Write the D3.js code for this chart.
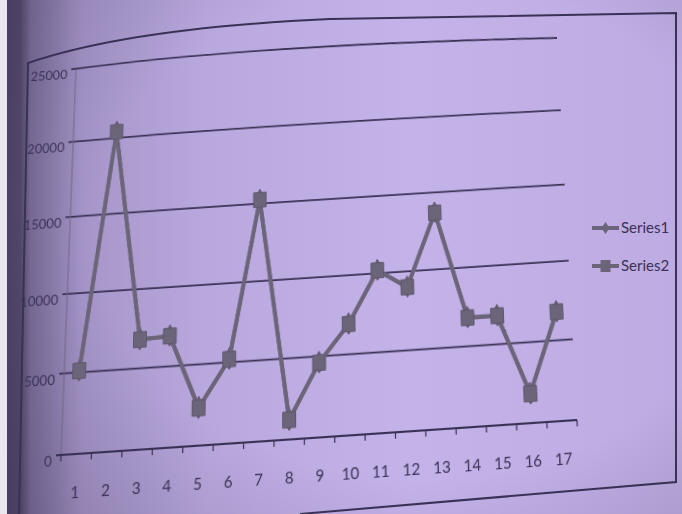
<!DOCTYPE html>
<html>
<head>
<meta charset="utf-8">
<script src="https://cdn.jsdelivr.net/npm/d3@7"></script>
<style>
  html, body { margin: 0; padding: 0; background: #bba9df; }
  #wrap { position: relative; width: 682px; height: 514px; overflow: hidden; }
  #wrap svg { position: absolute; left: 0; top: 0; display: block; }
  #sheet { transform-origin: 0 0; }
</style>
</head>
<body>
<div id="wrap">
  <svg id="page" width="682" height="514"></svg>
  <svg id="sheet" width="682" height="514"></svg>
</div>
<script>
// Data
const categories = ["1","2","3","4","5","6","7","8","9","10","11","12","13","14","15","16","17"];
const series1 = [5100, 20500, 6800, 6900, 2300, 5200, 15300, 1200, 4600, 6900, 10200, 9000, 13700, 6800, 6800, 1800, 6800];
const series2 = [5100, 20500, 6800, 6900, 2300, 5200, 15300, 1200, 4600, 6900, 10200, 9000, 13700, 6800, 6800, 1800, 6800];
const seriesNames = ["Series1", "Series2"];
const yTicks = [0, 5000, 10000, 15000, 20000, 25000];

// Layout
const W = 682, H = 514;
const plot = { left: 60, right: 577, top: 68, bottom: 455 };
// where the plot corners land on the slanted sheet: TL, TR, BR, BL
const sheetCorners = [[76, 69], [557, 38], [577, 420], [61, 455]];
const ink = "#3a3156";
const markColor = "#6c6479";
const font = "Lato, 'Open Sans', sans-serif";

// ---------- page: background, frame and legend ----------
const page = d3.select("#page");
const defs = page.append("defs");

const bg = defs.append("linearGradient").attr("id", "paper").attr("x1", 0).attr("x2", 1).attr("y1", 0).attr("y2", 0);
[[0, "#4a4062"], [0.03, "#54496c"], [0.045, "#7a6c98"], [0.12, "#a595c8"], [0.3, "#b9a8dd"], [0.6, "#c4b3e9"], [1, "#bdabe1"]]
  .forEach(([o, c]) => bg.append("stop").attr("offset", o).attr("stop-color", c));
page.append("rect").attr("width", W).attr("height", H).attr("fill", "url(#paper)");

const shade = defs.append("radialGradient").attr("id", "shade").attr("cx", 0.62).attr("cy", 0.45).attr("r", 0.8);
shade.append("stop").attr("offset", 0.6).attr("stop-color", "#2a2040").attr("stop-opacity", 0);
shade.append("stop").attr("offset", 1).attr("stop-color", "#2a2040").attr("stop-opacity", 0.18);
page.append("rect").attr("width", W).attr("height", H).attr("fill", "url(#shade)");

page.append("rect").attr("x", 0).attr("y", 0).attr("width", 7).attr("height", H).attr("fill", "#e9e6ef");

page.append("path")
  .attr("d", "M19,514 L28,63 Q130,28 330,19 L676,13 L676,482 L300,514")
  .attr("fill", "none").attr("stroke", ink).attr("stroke-width", 2);

const legend = page.append("g").attr("transform", "translate(592,228)");
seriesNames.forEach((name, i) => {
  const row = legend.append("g").attr("transform", `translate(0,${i * 38})`);
  row.append("line").attr("x1", 0).attr("x2", 27).attr("y1", 0).attr("y2", 0)
    .attr("stroke", markColor).attr("stroke-width", 4);
  row.append("path").attr("d", i === 0 ? "M0,-6L4,0L0,6L-4,0Z" : "M-5,-6H5V6H-5Z")
    .attr("transform", "translate(13.5,0)").attr("fill", markColor);
  row.append("text").attr("x", 29).attr("y", 5)
    .attr("font-family", font).attr("font-size", 15).attr("fill", ink)
    .text(name);
});

// ---------- sheet: the chart itself, drawn flat then put in perspective ----------
function homography(src, dst) {
  // solve the 8 unknowns of a projective map src -> dst
  const A = [], b = [];
  src.forEach(([x, y], i) => {
    const [u, v] = dst[i];
    A.push([x, y, 1, 0, 0, 0, -x * u, -y * u]); b.push(u);
    A.push([0, 0, 0, x, y, 1, -x * v, -y * v]); b.push(v);
  });
  const n = 8;
  for (let c = 0; c < n; c++) {
    let p = c;
    for (let r = c + 1; r < n; r++) if (Math.abs(A[r][c]) > Math.abs(A[p][c])) p = r;
    [A[c], A[p]] = [A[p], A[c]]; [b[c], b[p]] = [b[p], b[c]];
    for (let r = 0; r < n; r++) {
      if (r === c) continue;
      const f = A[r][c] / A[c][c];
      for (let k = c; k < n; k++) A[r][k] -= f * A[c][k];
      b[r] -= f * b[c];
    }
  }
  return b.map((v, i) => v / A[i][i]);
}
const flatCorners = [[plot.left, plot.top], [plot.right, plot.top], [plot.right, plot.bottom], [plot.left, plot.bottom]];
const h = homography(flatCorners, sheetCorners);
d3.select("#sheet").style("transform",
  `matrix3d(${h[0]},${h[3]},0,${h[6]},${h[1]},${h[4]},0,${h[7]},0,0,1,0,${h[2]},${h[5]},0,1)`);

const svg = d3.select("#sheet");
const x = d3.scaleBand().domain(categories).range([plot.left, plot.right]);
const y = d3.scaleLinear().domain([0, 25000]).range([plot.bottom, plot.top]);
const cx = c => x(c) + x.bandwidth() / 2;

// Gridlines (the top edge of the sheet bows upward a little)
svg.append("g").selectAll("path").data(yTicks.filter(v => v > 0)).join("path")
  .attr("d", d => {
    const x1 = plot.left - 5, x2 = plot.right, yy = y(d);
    const bow = 14 * Math.pow(d / 25000, 4);
    return `M${x1},${yy} Q${(x1 + x2) / 2 - 60},${yy - bow} ${x2},${yy}`;
  })
  .attr("fill", "none").attr("stroke", ink).attr("stroke-width", 1.8);

// Value axis
svg.append("line")
  .attr("x1", plot.left).attr("x2", plot.left)
  .attr("y1", y(25000)).attr("y2", y(0))
  .attr("stroke", "#6e6688").attr("stroke-width", 1);

svg.append("g").selectAll("text").data(yTicks).join("text")
  .attr("x", plot.left - 9).attr("y", d => y(d) + 10)
  .attr("text-anchor", "end")
  .attr("font-family", font).attr("font-size", 13.5)
  .attr("fill", ink)
  .text(d => d);

// Category axis
svg.append("line")
  .attr("x1", plot.left - 5).attr("x2", plot.right)
  .attr("y1", y(0)).attr("y2", y(0))
  .attr("stroke", ink).attr("stroke-width", 2);

svg.append("g").selectAll("line").data(d3.range(categories.length + 1)).join("line")
  .attr("x1", i => plot.left + i * x.bandwidth()).attr("x2", i => plot.left + i * x.bandwidth())
  .attr("y1", y(0)).attr("y2", y(0) + 6)
  .attr("stroke", ink).attr("stroke-width", 1.2);

svg.append("g").selectAll("text").data(categories).join("text")
  .attr("x", d => cx(d)).attr("y", y(0) + 41)
  .attr("text-anchor", "middle")
  .attr("font-family", font).attr("font-size", 15)
  .attr("fill", ink)
  .text(d => d);

// Series: diamonds (Series1) under squares (Series2)
const line = d3.line().x((d, i) => cx(categories[i])).y(d => y(d));
const diamondPath = "M0,-11L6,0L0,10L-6,0Z";
const squarePath = "M-6.5,-7.5H6.5V7.5H-6.5Z";

[[series1, diamondPath], [series2, squarePath]].forEach(([vals, shape]) => {
  svg.append("path").datum(vals)
    .attr("d", line)
    .attr("fill", "none").attr("stroke", markColor)
    .attr("stroke-width", 4).attr("stroke-linejoin", "round");
  svg.append("g").selectAll("path").data(vals).join("path")
    .attr("d", shape)
    .attr("transform", (d, i) => `translate(${cx(categories[i])},${y(d)})`)
    .attr("fill", markColor).attr("stroke", "#5e566c").attr("stroke-width", 1);
});
</script>
</body>
</html>
